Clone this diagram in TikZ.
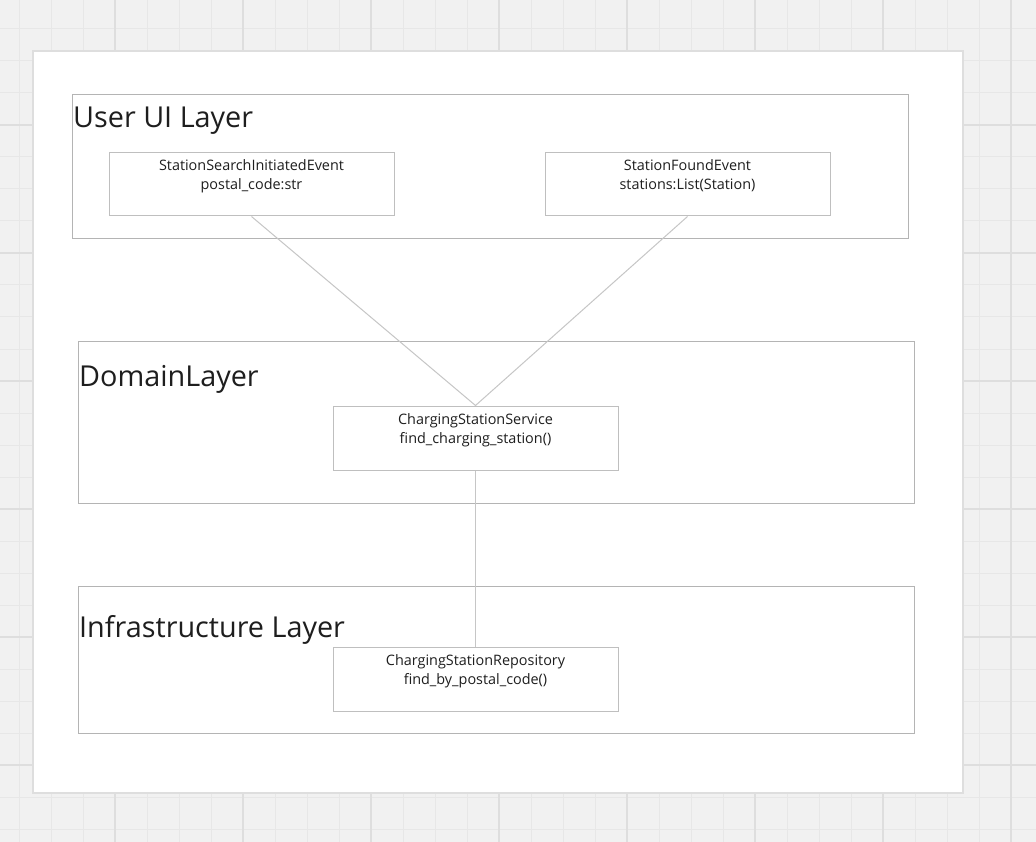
\documentclass[tikz,border=0pt]{standalone}
\usepackage{fontspec}
\setmainfont{Open Sans}
\definecolor{canvas}{HTML}{F1F1F1}
\definecolor{gridminor}{HTML}{E7E7E7}
\definecolor{gridmajor}{HTML}{DEDEDE}
\definecolor{edgegray}{HTML}{B4B4B4}
\definecolor{linkgray}{HTML}{C6C6C6}
\definecolor{ink}{HTML}{1E1E1E}
\begin{document}
\begin{tikzpicture}[x=1pt,y=-1pt,
    layer/.style={draw=edgegray,line width=1pt,minimum width=836pt,inner sep=0pt},
    item/.style={draw=edgegray!85,line width=1pt,fill=white,minimum width=285pt,
      minimum height=63pt,align=center,inner sep=0pt,text=ink,
      font=\fontsize{14.4}{19}\selectfont},
    title/.style={anchor=base west,inner sep=0pt,text=ink,font=\fontsize{28.8}{34}\selectfont},
    link/.style={draw=linkgray,line width=1pt}]
  \useasboundingbox (0,0) rectangle (1036,842);
  % background grid
  \fill[canvas] (0,0) rectangle (1036,842);
  \foreach \k in {0,...,32} {
    \draw[gridminor,line width=1pt] (19.5+32*\k,0) -- ++(0,842);
    \draw[gridminor,line width=1pt] (0,29+32*\k) -- ++(1036,0);
  }
  \foreach \k in {0,...,7} {
    \draw[gridmajor,line width=1.5pt] (115+128*\k,0) -- ++(0,842);
    \draw[gridmajor,line width=1.5pt] (0,-3+128*\k) -- ++(1036,0);
  }
  \filldraw[fill=white,draw=gridmajor,line width=1.5pt] (33,51) rectangle (963,793);
  % layers
  \node[layer,minimum height=144pt] (ui) at (490,167) {};
  \node[layer,minimum height=162pt] (domain) at (496,422) {};
  \node[layer,minimum height=147pt] (infra) at (496,659.5) {};
  \node[title] (uititle) at (73,128) {User UI Layer};
  \node[title] (domaintitle) at (79,386) {DomainLayer};
  \node[title] (infratitle) at (79,637) {Infrastructure Layer};
  % classes
  \node[item] (search) at (251.5,184.5) {StationSearchInitiatedEvent\\postal\_code:str\\~};
  \node[item] (found) at (687.5,184.5) {StationFoundEvent\\stations:List(Station)\\~};
  \node[item,minimum height=64pt] (service) at (475.5,438) {ChargingStationService\\find\_charging\_station()\\~};
  \node[item,minimum height=64pt] (repo) at (475.5,679) {ChargingStationRepository\\find\_by\_postal\_code()\\~};
  \draw[link] (search.south) -- (service.north) -- (found.south);
  \draw[link] (service.south) -- (repo.north);
\end{tikzpicture}
\end{document}
